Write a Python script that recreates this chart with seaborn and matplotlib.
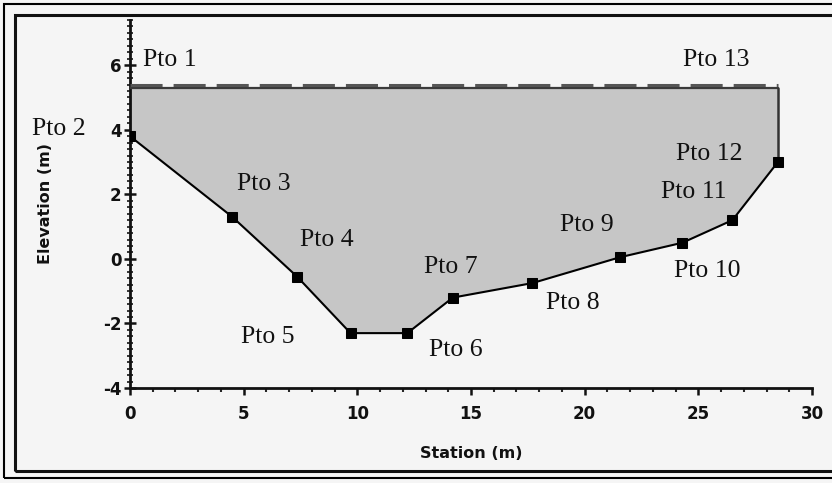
import matplotlib
matplotlib.use("Agg")
import matplotlib.pyplot as plt
from matplotlib.patches import Rectangle
from matplotlib.ticker import MultipleLocator
import seaborn as sns
import pandas as pd

# ---- data ----
labels = ["Pto 2", "Pto 3", "Pto 4", "Pto 5", "Pto 6", "Pto 7",
          "Pto 8", "Pto 9", "Pto 10", "Pto 11", "Pto 12"]
station = [0.0, 4.5, 7.35, 9.7, 12.2, 14.2, 17.7, 21.55, 24.3, 26.5, 28.5]
elevation = [3.8, 1.3, -0.55, -2.3, -2.3, -1.2, -0.75, 0.05, 0.5, 1.2, 3.0]
water_label_left = "Pto 1"
water_label_right = "Pto 13"
water_level = 5.3

df = pd.DataFrame({"Station (m)": station, "Elevation (m)": elevation, "label": labels})

# label offsets in pixels (dx, dy) from each point, left-aligned text
offsets = {"Pto 2": (-98, 7), "Pto 3": (5, 33), "Pto 4": (3, 37), "Pto 5": (-110, -4),
           "Pto 6": (22, -17), "Pto 7": (-29, 31), "Pto 8": (14, -20), "Pto 9": (-60, 32),
           "Pto 10": (-8, -28), "Pto 11": (-71, 28), "Pto 12": (-102, 8)}

sns.set_style("ticks")
plt.rcParams["font.family"] = ["DejaVu Sans"]
plt.rcParams["axes.unicode_minus"] = False

fig = plt.figure(figsize=(8.32, 4.83), dpi=100, facecolor="#f5f5f5")
W, H = 832, 483
ax = fig.add_axes([130 / W, (H - 388) / H, 682 / W, 368 / H])
ax.set_facecolor("#f5f5f5")

# water-filled cross-section
poly_x = [station[0]] + station + [station[-1]]
poly_y = [water_level] + elevation + [water_level]
ax.fill(poly_x, poly_y, color="#c6c6c6", lw=0, zorder=1)

# water surface lines
ax.plot([station[0], station[-1]], [water_level, water_level], color="#3a3a3a", lw=1.6, zorder=3)
ln, = ax.plot([station[0], station[-1]], [water_level + 0.09, water_level + 0.09],
              color="#555555", lw=2.2, zorder=3)
ln.set_dashes((10.5, 3.6))
ax.plot([station[-1], station[-1]], [elevation[-1], water_level], color="#333333", lw=1.8, zorder=3)

# bed profile
sns.lineplot(data=df, x="Station (m)", y="Elevation (m)", ax=ax, color="black", lw=1.5,
             marker="s", markersize=6.5, markeredgecolor="black", sort=False, zorder=4)

tfont = dict(family="Liberation Serif", fontsize=18.5, color="#111111")
for lab, sx, ey in zip(labels, station, elevation):
    dx, dy = offsets[lab]
    ax.annotate(lab, (sx, ey), xytext=(dx, dy), textcoords="offset pixels",
                ha="left", va="center", annotation_clip=False, **tfont)
ax.annotate(water_label_left, (station[0], water_level), xytext=(13, 28),
            textcoords="offset pixels", ha="left", va="center", annotation_clip=False, **tfont)
ax.annotate(water_label_right, (station[-1], water_level), xytext=(-95, 28),
            textcoords="offset pixels", ha="left", va="center", annotation_clip=False, **tfont)

ax.set_xlim(0, 30)
ax.set_ylim(-4, 7.4)
ax.xaxis.set_major_locator(MultipleLocator(5))
ax.xaxis.set_minor_locator(MultipleLocator(1))
ax.yaxis.set_major_locator(MultipleLocator(2))
ax.yaxis.set_minor_locator(MultipleLocator(0.2))
ax.set_yticks([-4, -2, 0, 2, 4, 6])

for s in ["top", "right"]:
    ax.spines[s].set_visible(False)
for s in ["left", "bottom"]:
    ax.spines[s].set_linewidth(2)
    ax.spines[s].set_color("#111111")

ax.tick_params(axis="x", which="major", direction="out", length=5, width=1.8, pad=7,
               labelsize=12, colors="#111111")
ax.tick_params(axis="x", which="minor", direction="out", length=3, width=1.5)
ax.tick_params(axis="y", which="major", direction="inout", length=8, width=1.8, pad=2,
               labelsize=12, colors="#111111")
ax.tick_params(axis="y", which="minor", direction="inout", length=4, width=1.3)
for t in ax.get_xticklabels() + ax.get_yticklabels():
    t.set_fontweight("bold")

ax.set_xlabel("Station (m)", fontsize=11.5, fontweight="bold", color="#111111", labelpad=17)
ax.set_ylabel("Elevation (m)", fontsize=11.5, fontweight="bold", color="#111111", labelpad=36)

# double frame
fig.patches.append(Rectangle((4 / W, (H - 478) / H), 840 / W, 474 / H, transform=fig.transFigure,
                             fill=False, lw=1.5, ec="black"))
fig.patches.append(Rectangle((15 / W, (H - 471) / H), 830 / W, 456 / H, transform=fig.transFigure,
                             fill=False, lw=2.2, ec="#111111"))

fig.savefig("out.png", dpi=100, facecolor=fig.get_facecolor())
